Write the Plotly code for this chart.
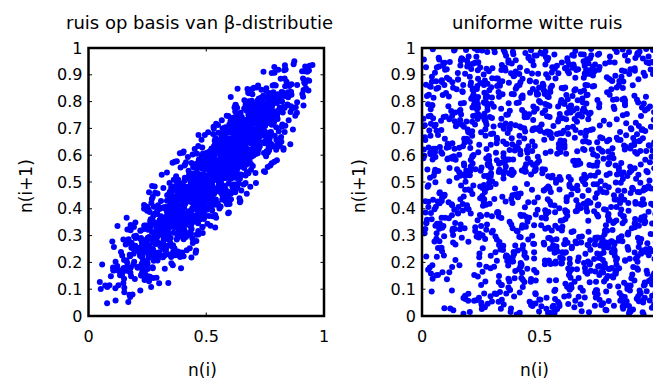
import plotly.graph_objects as go

# n(i) sequences, in thousandths
beta_noise = [
    480, 527, 524, 612, 637, 625, 491, 522, 588, 579, 527, 606, 624, 520, 526, 488, 417, 439, 496, 401, 442,
    424, 353, 359, 264, 226, 248, 191, 194, 298, 339, 327, 406, 437, 571, 562, 628, 603, 691, 644, 592,
    658, 667, 708, 604, 626, 623, 702, 754, 723, 811, 823, 776, 642, 660, 603, 609, 704, 679, 750, 712,
    681, 738, 726, 805, 802, 755, 850, 825, 759, 765, 631, 590, 608, 520, 572, 563, 459, 497, 475, 404,
    316, 338, 286, 277, 206, 244, 238, 134, 152, 105, 171, 174, 79, 48, 127, 115, 58, 192, 233, 208,
    252, 247, 338, 365, 351, 479, 446, 509, 520, 471, 553, 537, 638, 646, 610, 684, 664, 605, 697, 740,
    756, 683, 675, 768, 728, 748, 689, 684, 582, 621, 635, 554, 525, 394, 405, 469, 442, 528, 479, 425,
    361, 372, 333, 232, 256, 251, 175, 229, 200, 291, 305, 260, 388, 372, 431, 439, 346, 373, 446, 410,
    439, 498, 484, 561, 566, 517, 610, 633, 565, 573, 442, 485, 501, 587, 533, 522, 624, 664, 644, 717,
    803, 827, 778, 789, 862, 826, 834, 936, 916, 871, 939, 934, 841, 874, 951, 937, 878, 747, 790, 817,
    768, 770, 685, 662, 672, 535, 564, 495, 502, 447, 523, 503, 396, 400, 440, 372, 396, 342, 440, 401,
    381, 312, 316, 219, 255, 231, 176, 177, 71, 114, 104, 181, 148, 285, 292, 224, 247, 337, 292, 342,
    410, 417, 460, 566, 546, 547, 629, 579, 612, 527, 537, 586, 449, 469, 524, 520, 617, 594, 663, 703,
    670, 725, 715, 634, 635, 590, 687, 660, 596, 600, 463, 502, 482, 572, 522, 515, 409, 445, 469, 400,
    490, 470, 525, 532, 601, 561, 565, 671, 655, 704, 640, 641, 738, 709, 790, 800, 745, 608, 647, 624,
    638, 576, 478, 483, 520, 439, 465, 346, 390, 381, 451, 484, 332, 349, 291, 293, 207, 255, 226, 151,
    209, 180, 182, 268, 251, 403, 447, 372, 381, 414, 295, 300, 238, 275, 373, 359, 407, 381, 462, 532,
    569, 450, 467, 511, 441, 443, 505, 479, 565, 579, 531, 433, 438, 513, 484, 332, 341, 399, 366, 447,
    492, 498, 584, 556, 569, 700, 665, 726, 736, 686, 770, 753, 654, 657, 699, 626, 645, 705, 612, 650,
    667, 727, 632, 640, 679, 601, 625, 741, 694, 682, 749, 780, 632, 652, 597, 601, 512, 466, 493, 421,
    366, 397, 393, 304, 324, 176, 223, 151, 139, 170, 286, 294, 234, 273, 178, 161, 207, 183, 261, 328,
    367, 483, 463, 510, 443, 447, 507, 483, 572, 589, 543, 638, 646, 574, 605, 457, 469, 524, 493, 571,
    592, 660, 651, 743, 784, 765, 819, 823, 715, 752, 737, 812, 778, 907, 913, 843, 865, 774, 730, 786,
    724, 737, 774, 675, 701, 695, 622, 679, 651, 558, 567, 611, 482, 503, 451, 453, 365, 395, 461, 419,
    384, 332, 347, 273, 280, 238, 337, 316, 255, 257, 130, 167, 181, 273, 225, 237, 338, 304, 329, 262,
    354, 336, 386, 399, 332, 374, 372, 471, 450, 502, 564, 557, 466, 493, 577, 562, 616, 489, 526, 554,
    565, 630, 529, 532, 567, 651, 628, 750, 709, 716, 643, 679, 533, 548, 609, 604, 521, 572, 603, 525,
    464, 437, 442, 359, 374, 228, 269, 347, 340, 376, 498, 495, 560, 595, 494, 505, 556, 533, 617, 544,
    579, 701, 686, 727, 800, 795, 860, 837, 920, 931, 880, 779, 782, 860, 833, 687, 694, 755, 719, 803,
    760, 752, 842, 820, 836, 710, 683, 747, 735, 687, 767, 748, 645, 647, 687, 618, 643, 587, 684, 648,
    633, 559, 566, 470, 435, 458, 398, 400, 300, 342, 329, 247, 275, 142, 152, 89, 115, 202, 250, 199,
    262, 252, 292, 395, 376, 378, 298, 346, 382, 295, 311, 354, 228, 250, 194, 202, 299, 271, 340, 305,
    332, 392, 379, 461, 463, 415, 512, 490, 559, 551, 684, 719, 700, 787, 736, 746, 646, 688, 704, 630,
    543, 569, 518, 528, 454, 419, 427, 527, 512, 554, 491, 493, 589, 561, 641, 628, 568, 435, 483, 505,
    521, 578, 672, 666, 708, 632, 661, 774, 725, 735, 803, 765, 624, 643, 696, 693, 783, 739, 763, 833,
    886, 862, 865, 775, 756, 615, 664, 594, 604, 566, 679, 673, 616, 658, 564, 580, 536, 507, 583, 515,
    473, 360, 379, 330, 406, 403, 346, 375, 285, 269, 313, 219, 225, 155, 179, 320, 310, 257, 295, 227,
    277, 273, 356, 382, 373, 511, 543, 476, 489, 443, 520, 541, 435, 442, 476, 401, 419, 481, 391, 435,
    454, 524, 513, 601, 642, 625, 687, 693, 595, 640, 648, 568, 603, 728, 715, 782, 762, 668, 711, 653,
    723, 717, 762, 664, 681, 692, 609, 662, 636, 726, 739, 698, 560, 579, 517, 521, 433, 465, 398, 352,
    358, 483, 440, 523, 542, 367, 435, 331, 362, 508, 498, 404, 457, 244, 269, 344, 229, 266, 108, 170,
    274, 249, 407, 475, 469, 584, 531, 706, 725, 631, 777, 740, 750, 537, 620, 651, 526, 588, 545, 620,
    778, 831, 821, 706, 789, 576, 607, 539, 664, 683, 621, 475, 481, 585, 542, 717, 742, 648, 573, 610,
    579, 485, 310, 320, 252, 289, 143, 226, 220, 95, 148, 123, 336, 261, 146, 165, 323, 366, 470, 408,
    483, 629, 604, 817, 764, 770, 666, 709, 534, 596, 577, 702, 785, 754, 596, 606, 512, 580, 695, 658,
    667, 788, 742, 822, 800, 629, 700, 599, 633, 490, 503, 594, 538, 330, 358, 430, 312, 352, 197, 138,
    239, 267, 422, 351, 360, 478, 422, 593, 571, 662, 805, 765, 778, 570, 650, 616, 737, 796, 750, 678,
    833, 777, 790, 908, 828, 620, 654, 583, 704, 726, 667, 524, 533, 634, 588, 417, 445, 354, 426, 386,
    352, 443, 272, 285, 214, 254, 397, 317, 308, 429, 373, 401, 609, 537, 655, 633, 478, 524, 625, 566,
    638, 495, 467, 675, 731, 722, 621, 667, 496, 555, 577, 456, 376, 410, 565, 552, 643, 572, 454, 494,
    490, 362, 402, 316, 300, 122, 187, 80, 108, 257, 264, 361, 311, 527, 505, 583, 471, 505, 344, 409,
    516, 538, 377, 442, 446, 558, 508, 686, 670, 767, 618, 652, 645, 429, 515, 543, 415, 480, 520, 442,
    603, 653, 646, 758, 672, 456, 484, 549, 421, 437, 372, 521, 525, 418, 458, 280, 302, 399, 321, 355,
    383, 480, 658, 651, 716, 682, 831, 917, 913, 785, 835, 857, 641, 719, 607, 623, 462, 502, 609, 544,
    466, 317, 339, 123, 173, 169, 276, 236, 414, 349, 365, 237, 151, 179, 340, 333, 430, 365, 253, 287,
    295, 413, 364, 441, 466, 634, 561, 659, 623, 763, 775, 687, 745, 540, 570, 640, 520, 561, 409, 466,
    564, 594, 746, 673, 681, 801, 743, 911, 886, 798, 658, 699, 687, 482, 559, 523, 405, 462, 511, 441,
    289, 347, 359, 239, 162, 367, 331, 404, 286, 311, 368, 228, 220, 318, 269, 437, 467, 379, 449, 408,
    444, 532, 700, 688, 761, 720, 860, 783, 791, 673, 731, 761, 556, 486, 606, 581, 429, 478, 380, 437,
    367, 227, 257, 462, 520, 512, 610, 659, 491, 548, 536, 654, 731, 695, 847, 835, 923, 850, 730, 771,
    768, 637, 674, 585, 599, 418, 480, 370, 344, 496, 490, 390, 437, 218, 238, 158, 267, 236, 400, 468,
    578, 598, 434, 496, 493, 602, 649, 468, 482, 582, 430, 461, 455, 236, 325, 351, 220, 288, 325, 245,
    409, 362, 368, 477, 388, 607, 581, 643, 512, 526, 594, 442, 445, 555, 518, 337, 357, 257, 337, 368,
    394, 494, 675, 669, 731, 762, 610, 699, 696, 827, 780, 800, 581, 661, 552, 566, 730, 693, 803, 735,
    815, 663, 643, 424, 471, 477, 367, 404, 223, 291, 277, 408, 319, 293, 457, 454, 354, 416, 307, 338,
    345, 464, 509, 430, 451, 623, 557, 657, 690, 546, 557, 647, 596, 386, 413, 340, 453, 414, 574, 514,
    614, 587, 747, 813, 806, 919, 868, 696, 675, 765, 621, 582, 593, 383, 462, 495, 376, 436, 391, 318,
    478, 427, 438, 325, 404, 614, 581, 647, 528, 549, 609, 465, 472, 372, 417, 245, 272, 182, 255, 216,
    183, 273, 445, 434, 500, 461, 605, 684, 677, 796, 745, 772, 562, 489, 376, 397, 237, 282, 382, 322,
    249, 393, 366, 576, 627, 620, 720, 675, 847, 787, 808, 689, 768, 801, 641, 652, 562, 628, 515, 554,
    544, 421, 462, 376, 358, 189, 253, 148, 177, 327, 319, 226, 281, 483, 459, 536, 426, 391, 554, 496,
    601, 625, 788, 724, 734, 844, 789, 929, 911, 818, 668, 633, 641, 439, 525, 496, 373, 431, 390, 467,
    304, 359, 351, 461, 375, 577, 548, 612, 489, 471, 529, 679, 669, 564, 605, 436, 460, 553, 476, 511,
    482, 389, 220, 228, 164, 199, 349, 435, 425, 302, 357, 333, 535, 458, 568, 550, 713, 672, 567, 625,
    702, 852, 828, 626, 681, 673, 778, 819, 650, 708, 690, 567, 653, 624, 787, 797, 704, 768, 658, 623,
    618, 491, 527, 445, 430, 253, 322, 225, 193, 332, 319, 406, 357, 572, 552, 481, 598, 556, 401, 465,
    368, 388, 233, 164, 169, 52, 101, 278, 293, 380, 241, 283, 270, 485, 403, 435, 308, 372, 336, 407,
    562, 611, 598, 715, 633, 848, 816, 885, 758, 778, 714, 853, 858, 761, 797, 620, 635, 722, 651, 693,
    725, 812, 635, 648, 717, 675, 536, 618, 613, 740, 691, 711, 496, 425, 542, 527, 372, 408, 505, 441,
    512, 373, 393, 178, 227, 222, 319, 283, 460, 396, 381, 508, 426, 458, 303, 316, 403, 334, 451, 409,
]

white_noise = [
    814, 781, 339, 116, 503, 61, 288, 743, 458, 876, 422, 142, 267, 879, 10, 598, 214, 455, 367, 946,
    125, 592, 806, 238, 777, 319, 659, 486, 162, 731, 858, 36, 673, 402, 795, 571, 247, 927, 616, 389,
    536, 963, 227, 748, 185, 501, 691, 69, 852, 346, 607, 924, 279, 818, 435,
    127, 95, 862, 804, 846, 397, 712, 192, 931, 233, 771, 587, 635, 313, 493, 827, 665, 72, 931, 287,
    564, 18, 347, 699, 418, 872, 101, 744, 597, 356, 221, 789, 149, 716, 524, 938, 663, 404, 858, 124,
    765, 286, 842, 57, 624, 906, 346, 593, 214, 778, 183, 471, 847, 62, 691,
    905, 362, 205, 541, 132, 852, 35, 609, 284, 567, 196, 939, 468, 47, 738, 284, 913, 807, 148, 516,
    843, 381, 663, 921, 55, 611, 387, 203, 893, 479, 634, 453, 967, 251, 336, 116, 882, 19, 347, 705,
    203, 525, 608, 395, 476, 238, 817, 268, 739, 96, 452, 633, 116, 734, 267,
    463, 528, 476, 269, 697, 518, 469, 952, 616, 109, 643, 316, 82, 694, 165, 953, 476, 339, 573, 679,
    297, 739, 128, 413, 903, 237, 791, 566, 337, 918, 74, 279, 523, 838, 877, 393, 141, 759, 503, 982,
    414, 673, 105, 921, 709, 753, 153, 882, 536, 521, 828, 215, 569, 497, 802,
    278, 867, 719, 973, 419, 183, 904, 331, 90, 944, 358, 751, 919, 527, 902, 132, 302, 681, 812, 144,
    708, 263, 489, 571, 286, 482, 544, 12, 712, 126, 417, 617, 374, 97, 661, 748, 536, 291, 74, 458,
    879, 37, 771, 236, 992, 89, 934, 415, 12, 667, 295, 792, 381, 942, 114,
    631, 143, 583, 402, 6, 736, 166, 487, 773, 398, 912, 64, 344, 246, 377, 716, 758, 230, 59, 408,
    446, 914, 977, 76, 631, 759, 265, 833, 468, 651, 989, 902, 822, 562, 93, 226, 317, 645, 931, 237,
    147, 846, 448, 609, 362, 584, 472, 731, 391, 231, 967, 58, 714, 283, 578,
    52, 709, 14, 657, 774, 274, 623, 76, 345, 651, 57, 499, 703, 861, 621, 45, 139, 994, 694, 862,
    972, 476, 215, 844, 497, 17, 928, 358, 84, 873, 306, 184, 63, 927, 418, 604, 797, 532, 688, 841,
    687, 419, 294, 854, 27, 407, 628, 196, 687, 889, 141, 347, 993, 608, 853,
    749, 416, 927, 83, 255, 991, 381, 828, 528, 27, 488, 826, 191, 402, 854, 371, 584, 519, 267, 33,
    181, 647, 579, 327, 818, 946, 472, 699, 824, 207, 582, 736, 441, 333, 248, 869, 55, 908, 214, 596,
    333, 712, 917, 173, 836, 861, 71, 964, 943, 418, 378, 906, 425, 161, 324,
    386, 986, 648, 735, 938, 436, 757, 263, 862, 786, 835, 281, 562, 976, 243, 639, 821, 163, 436, 751,
    625, 102, 832, 658, 174, 394, 618, 951, 249, 542, 743, 492, 698, 687, 976, 31, 692, 179, 562, 8,
    957, 158, 536, 483, 551, 319, 385, 327, 265, 755, 711, 563, 236, 357, 971,
    920, 257, 301, 318, 581, 627, 214, 594, 197, 472, 270, 673, 837, 178, 569, 507, 36, 747, 975, 594,
    319, 858, 44, 189, 726, 561, 197, 277, 985, 761, 164, 341, 257, 478, 541, 477, 424, 817, 772, 729,
    492, 594, 682, 766, 293, 679, 744, 648, 128, 183, 522, 684, 651, 889, 636,
    174, 633, 785, 891, 327, 149, 548, 415, 707, 314, 609, 120, 28, 629, 106, 889, 697, 402, 318, 206,
    861, 355, 718, 996, 342, 827, 853, 511, 533, 389, 895, 861, 913, 178, 706, 355, 916, 463, 41, 361,
    224, 998, 129, 318, 665, 142, 209, 811, 807, 604, 269, 129, 872, 522, 207,
    558, 38, 159, 189, 661, 805, 879, 985, 42, 893, 155, 407, 455, 753, 792, 262, 427, 885, 625, 939,
    50, 523, 395, 452, 963, 131, 326, 127, 376, 15, 428, 108, 585, 754, 187, 993, 276, 341, 445, 619,
    809, 321, 388, 977, 118, 948, 583, 45, 584, 37, 855, 875, 304, 707, 469,
    693, 492, 442, 566, 98, 367, 106, 137, 396, 168, 962, 968, 782, 91, 336, 773, 254, 26, 790, 372,
    533, 787, 266, 731, 213, 673, 44, 786, 652, 694, 672, 569, 133, 21, 359, 642, 578, 726, 897, 183,
    76, 462, 953, 541, 784, 526, 966, 506, 339, 937, 14, 325, 53, 278, 783,
    21, 821, 896, 24, 482, 47, 434, 701, 958, 536, 329, 546, 614, 438, 688, 198, 968, 635, 105, 628,
    776, 196, 941, 6, 589, 508, 715, 423, 191, 952, 239, 947, 767, 613, 825, 171, 839, 86, 329, 867,
    631, 784, 264, 84, 429, 264, 436, 237, 917, 292, 639, 476, 762, 41, 91,
    447, 176, 67, 427, 813, 589, 796, 359, 225, 715, 694, 232, 297, 815, 451, 424, 543, 291, 481, 85,
    242, 68, 153, 384, 451, 285, 581, 642, 767, 283, 517, 273, 322, 886, 459, 833, 110, 588, 655, 432,
    376, 213, 725, 697, 918, 797, 112, 783, 461, 573, 934, 778, 487, 836, 545,
    836, 554, 523, 768, 209, 922, 652, 846, 571, 259, 411, 797, 948, 352, 983, 946, 117, 552, 859, 467,
    905, 612, 605, 628, 98, 919, 883, 95, 29, 826, 809, 626, 491, 396, 632, 508, 367, 954, 169, 714,
    903, 651, 563, 412, 647, 33, 857, 372, 703, 826, 407, 244, 191, 413, 296,
    312, 297, 372, 352, 575, 241, 293, 533, 819, 997, 748, 371, 129, 587, 219, 601, 849, 916, 223, 803,
    407, 443, 369, 870, 754, 61, 152, 907, 419, 457, 53, 398, 848, 529, 68, 254, 744, 233, 806, 279,
    567, 886, 17, 863, 206, 468, 299, 924, 95, 449, 588, 612, 926, 655, 918,
    975, 948, 690, 619, 913, 678, 18, 222, 153, 382, 203, 15, 386, 221, 57, 337, 366, 188, 543, 251,
    686, 951, 818, 244, 307, 437, 406, 315, 886, 114, 365, 752, 216, 941, 908, 721, 621, 679, 511, 548,
    252, 49, 814, 251, 372, 619, 702, 158, 628, 166, 752, 979, 617, 962, 389,
    239, 611, 238, 945, 346, 513, 867, 674, 684, 623, 519, 658, 725, 930, 746, 81, 612, 734, 38, 717,
    169, 292, 522, 547, 682, 798, 968, 574, 605, 638, 926, 86, 605, 268, 287, 419, 198, 398, 954, 92,
    743, 379, 437, 538, 817, 352, 541, 676, 274, 714, 197, 83, 367, 139, 727,
    604, 73, 957, 271, 724, 856, 535, 11, 309, 84, 880, 903, 551, 664, 414, 862, 793, 480, 701, 390,
    827, 734, 87, 163, 935, 244, 233, 847, 298, 503, 691, 512, 979, 147, 714, 962, 483, 132, 274, 823,
    158, 602, 691, 939, 60, 876, 247, 439, 981, 903, 346, 531, 745, 574, 26,
    173, 418, 186, 524, 987, 213, 689, 527, 381, 546, 852, 994, 707, 943, 358, 226, 331, 859, 434, 662,
    205, 627, 483, 379, 341, 876, 312, 238, 754, 929, 565, 63, 221, 847, 893, 476, 172, 958, 773, 129,
    645, 971, 306, 997, 932, 368, 794, 591, 196, 57, 593, 851, 279, 46, 995, 768, 463, 992, 467, 471,
    564, 923, 276, 378, 28, 745, 806, 179, 661, 469, 37, 604, 235, 858, 636, 253, 42, 874, 952, 996,
    843, 657, 271, 815, 38, 384, 422, 816, 273, 589, 355, 427, 251, 116, 163, 769, 48, 624, 778, 942,
    793, 175, 862, 208, 871, 114, 819, 224, 846, 437, 553, 928, 85, 441, 539, 207, 382, 526, 364, 683,
    94, 298, 887, 701, 425, 769, 181, 327, 568, 203, 649, 665, 218, 487, 972, 706, 734, 523, 791, 256,
    448, 743, 96, 945, 372, 698, 903, 924, 986, 551, 909, 512, 757, 474, 936, 697, 691, 933, 694, 762,
    618, 273, 796, 715, 247, 483, 81, 729, 604, 653, 391, 73, 326, 537, 388, 534, 436, 742, 561, 927,
    497, 578, 782, 139, 325, 836, 291, 178, 795, 884, 557, 264, 522, 193, 659, 615, 443, 217, 746, 412,
    174, 528, 383, 641, 706, 429, 335, 27, 426, 339, 61, 848, 75, 421, 703, 266, 795, 658, 392, 897,
    664, 579, 906, 963, 637, 258, 253, 554, 34, 516, 859, 812, 347, 43, 786, 318, 285, 497, 853, 851,
    808, 877, 113, 424, 329, 276, 478, 972, 136, 991, 594, 946, 68, 675, 977, 345, 262, 901, 638, 974,
    243, 219, 827, 985, 159, 764, 272, 415, 88, 825, 356, 643, 938, 961, 484, 873, 257, 165, 793, 56,
    546, 194, 696, 652, 278, 769, 162, 523, 326, 371, 532, 954, 947, 896, 473, 782, 274, 923, 462, 128,
    746, 293, 552, 284, 597, 738, 69, 541, 687, 775, 305, 781, 396, 263, 798, 176, 8, 621, 177, 446,
    493, 904, 915, 202, 684, 503, 797, 826, 435, 227, 548, 517, 468, 616, 757, 667, 752, 779, 23, 547,
    463, 138, 624, 153, 882, 214, 817, 236, 735, 916, 981, 993, 297, 54, 536, 889, 543, 427, 823, 498,
    62, 309, 984, 732, 913, 605, 791, 614, 428, 135, 596, 238, 885, 921, 337, 736, 292, 225, 945, 479,
    698, 793, 356, 558, 709, 647, 841, 422, 373, 766, 663, 565, 387, 584, 682, 448, 352, 926, 273, 184,
]

titles = ["ruis op basis van \u03b2-distributie", "uniforme witte ruis"]
x_label = "n(i)"
y_label = "n(i+1)"
x_tick_vals = [0, 0.5, 1]
x_tick_text = ["0", "0.5", "1"]
y_tick_vals = [0, 0.1, 0.2, 0.3, 0.4, 0.5, 0.6, 0.7, 0.8, 0.9, 1]
y_tick_text = ["0", "0.1", "0.2", "0.3", "0.4", "0.5", "0.6", "0.7", "0.8", "0.9", "1"]

W, H = 653, 380
FONT = "DejaVu Sans"
BLUE = "#0000ff"

# panel geometry in pixels (frame line centres)
L_X0, L_X1 = 88.5, 324.0
R_X0, R_X1_FULL = 422.0, 657.5
Y_TOP, Y_BOT = 48.0, 316.0
TICK_PX = 3.5
FRAME_W = 2.5


def fx(px):
    return px / W


def fy(px):
    return 1 - px / H


beta = [v / 1000 for v in beta_noise]
white = [v / 1000 for v in white_noise]

fig = go.Figure()
fig.add_trace(go.Scatter(x=beta[:-1], y=beta[1:], mode="markers",
                         marker=dict(color=BLUE, size=6, line=dict(width=0)),
                         xaxis="x", yaxis="y", showlegend=False, hoverinfo="skip"))
fig.add_trace(go.Scatter(x=white[:-1], y=white[1:], mode="markers",
                         marker=dict(color=BLUE, size=6, line=dict(width=0)),
                         xaxis="x2", yaxis="y2", showlegend=False, hoverinfo="skip"))

common = dict(showline=False, ticks="", showgrid=False, zeroline=False, automargin=False,
              tickfont=dict(family=FONT, size=16, color="black"))

ydom = [fy(Y_BOT), fy(Y_TOP)]
right_w = W - R_X0
fig.update_layout(
    width=W, height=H, autosize=False,
    margin=dict(l=0, r=0, t=0, b=0, pad=0, autoexpand=False),
    paper_bgcolor="white", plot_bgcolor="white",
    xaxis=dict(domain=[fx(L_X0), fx(L_X1)], range=[0, 1], anchor="y",
               tickvals=x_tick_vals, ticktext=x_tick_text, ticklabelstandoff=9, **common),
    yaxis=dict(domain=ydom, range=[0, 1], anchor="x",
               tickvals=y_tick_vals, ticktext=y_tick_text, ticklabelstandoff=5, **common),
    xaxis2=dict(domain=[fx(R_X0), 1.0], range=[0, right_w / (R_X1_FULL - R_X0)], anchor="y2",
                tickvals=x_tick_vals, ticktext=x_tick_text, ticklabelstandoff=9, **common),
    yaxis2=dict(domain=ydom, range=[0, 1], anchor="x2",
                tickvals=y_tick_vals, ticktext=y_tick_text, ticklabelstandoff=5, **common),
)

shapes = []
line_style = dict(color="black", width=FRAME_W)
tick_style = dict(color="black", width=1)
plot_h = Y_BOT - Y_TOP
panels = [("x", "y", L_X1 - L_X0, 1.0, True),
          ("x2", "y2", right_w, (R_X1_FULL - R_X0) / right_w, False)]
for xa, ya, wpx, xmax_dom, right_visible in panels:
    # frame
    shapes.append(dict(type="rect", xref=xa + " domain", yref=ya + " domain",
                       x0=0, x1=xmax_dom, y0=0, y1=1, line=line_style, layer="above"))
    tx = TICK_PX / wpx
    ty = TICK_PX / plot_h
    for v in y_tick_vals:
        shapes.append(dict(type="line", xref=xa + " domain", yref=ya, x0=0, x1=tx, y0=v, y1=v,
                           line=tick_style, layer="above"))
        if right_visible:
            shapes.append(dict(type="line", xref=xa + " domain", yref=ya, x0=1 - tx, x1=1, y0=v, y1=v,
                               line=tick_style, layer="above"))
    for v in x_tick_vals:
        if not right_visible and v >= 1:
            continue
        shapes.append(dict(type="line", xref=xa, yref=ya + " domain", x0=v, x1=v, y0=0, y1=ty,
                           line=tick_style, layer="above"))
        shapes.append(dict(type="line", xref=xa, yref=ya + " domain", x0=v, x1=v, y0=1 - ty, y1=1,
                           line=tick_style, layer="above"))
fig.update_layout(shapes=shapes)

ann = []
for cx, t in [(200, titles[0]), (537, titles[1])]:
    ann.append(dict(x=fx(cx), y=fy(23), xref="paper", yref="paper", text=t, showarrow=False,
                    xanchor="center", yanchor="middle", font=dict(family=FONT, size=18, color="black")))
for cx in [202, 534]:
    ann.append(dict(x=fx(cx), y=fy(370), xref="paper", yref="paper", text=x_label, showarrow=False,
                    xanchor="center", yanchor="middle", font=dict(family=FONT, size=17, color="black")))
for cx in [26, 359]:
    ann.append(dict(x=fx(cx), y=fy(186), xref="paper", yref="paper", text=y_label, showarrow=False,
                    textangle=-90, xanchor="center", yanchor="middle",
                    font=dict(family=FONT, size=17, color="black")))
fig.update_layout(annotations=ann)

fig.write_html("out.html", config={"displayModeBar": False})
